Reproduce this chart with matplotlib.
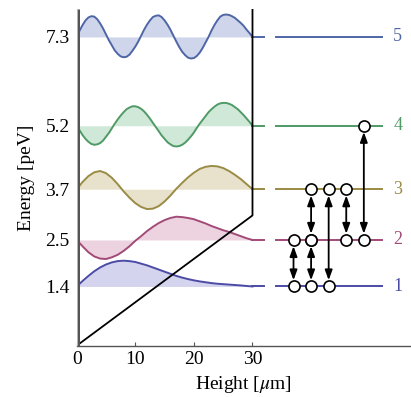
import numpy as np
import matplotlib
matplotlib.use('Agg')
from matplotlib import pyplot as plt

plt.rcParams['font.family'] = ['Liberation Serif', 'DejaVu Serif']
plt.rcParams['mathtext.fontset'] = 'stix'

z = list(range(31))
z_fine = [i * 0.5 for i in range(61)]

# wave functions, offset from their level (peV units)
psi1 = [0, 0.13, 0.25, 0.36, 0.45, 0.52, 0.57, 0.60, 0.61, 0.60, 0.58,
        0.54, 0.50, 0.45, 0.40, 0.35, 0.30, 0.25, 0.21, 0.175, 0.145,
        0.12, 0.10, 0.08, 0.065, 0.055, 0.045, 0.035, 0.025, 0.012, 0]
psi2 = [0, -0.15, -0.29, -0.39, -0.44, -0.45, -0.41, -0.35, -0.26, -0.15, -0.02,
        0.09, 0.21, 0.31, 0.40, 0.47, 0.52, 0.55, 0.54, 0.52, 0.49,
        0.44, 0.39, 0.33, 0.28, 0.23, 0.19, 0.14, 0.09, 0.04, 0]
psi3 = [0, 0.17, 0.31, 0.40, 0.43, 0.38, 0.27, 0.12, -0.05, -0.20, -0.33,
        -0.42, -0.47, -0.46, -0.40, -0.29, -0.15, 0.01, 0.15, 0.28, 0.39,
        0.48, 0.53, 0.55, 0.54, 0.50, 0.43, 0.34, 0.24, 0.12, 0]
# read every 0.5 um
psi4 = [0, -0.11, -0.22, -0.31, -0.38, -0.43, -0.45, -0.44, -0.41, -0.35,
        -0.26, -0.17, -0.06, 0.05, 0.15, 0.24, 0.32, 0.39, 0.43, 0.46,
        0.46, 0.44, 0.40, 0.34, 0.26, 0.17, 0.07, -0.03, -0.13, -0.23,
        -0.31, -0.39, -0.44, -0.48, -0.49, -0.48, -0.45, -0.40, -0.33, -0.25,
        -0.16, -0.05, 0.05, 0.14, 0.23, 0.32, 0.39, 0.45, 0.50, 0.53,
        0.54, 0.54, 0.52, 0.49, 0.44, 0.39, 0.32, 0.25, 0.17, 0.09, 0]
psi5 = [0, 0.15, 0.28, 0.39, 0.46, 0.49, 0.48, 0.42, 0.32, 0.20,
        0.06, -0.08, -0.20, -0.32, -0.40, -0.46, -0.48, -0.47, -0.42, -0.33,
        -0.23, -0.11, 0.03, 0.17, 0.29, 0.39, 0.47, 0.50, 0.51, 0.47,
        0.39, 0.29, 0.17, 0.03, -0.11, -0.24, -0.35, -0.43, -0.49, -0.51,
        -0.50, -0.45, -0.37, -0.26, -0.13, 0, 0.15, 0.28, 0.39, 0.48,
        0.52, 0.53, 0.52, 0.49, 0.45, 0.39, 0.33, 0.26, 0.17, 0.09, 0]

levels = [1.4, 2.5, 3.7, 5.2, 7.3]
names = ['1', '2', '3', '4', '5']
line_cols = ['#4b4ba6', '#a24a78', '#9a8b45', '#4f9a66', '#4f66a6']
fill_cols = ['#d4d4ef', '#ecd3df', '#e8e2cc', '#d0e8d8', '#cfd5ea']

# potential: mg z up to the top mirror at 30 um
pot_z = [0, 30, 30]
pot_E = [0, 3.08, 7.96]

# transitions between levels (x position, lower, upper)
trans_x = [37, 40, 40, 43, 46, 49]
trans_lo = [1, 1, 2, 1, 2, 2]
trans_hi = [2, 2, 3, 3, 3, 4]

fig = plt.figure(figsize=(4.11, 3.97), dpi=100)
ax = fig.add_axes([0.1866, 0.1292, 0.8134, 0.8481])

curves = [(z, psi1), (z, psi2), (z, psi3), (z_fine, psi4), (z_fine, psi5)]
for i, (zz, psi) in enumerate(curves):
    E = levels[i]
    y = np.array(psi) + E
    ax.fill_between(zz, E, y, color=fill_cols[i], lw=0, zorder=1)
    ax.plot(zz, y, color=line_cols[i], lw=1.4, zorder=2)
    ax.plot([30, 32], [E, E], color=line_cols[i], lw=1.4, zorder=2)
    ax.plot([34, 52.1], [E, E], color=line_cols[i], lw=1.4, zorder=2)
    ax.text(54.8, E, names[i], color=line_cols[i], fontsize=13,
            ha='center', va='center')

ax.plot(pot_z, pot_E, color='black', lw=1.3, zorder=3)
# the floor mirror
ax.plot([0, 0], [0, 7.96], color='#555555', lw=3.6, zorder=4, solid_capstyle='butt')
ax.plot([0, 0], [0, 7.96], color='#b8b8b8', lw=1.4, zorder=5, solid_capstyle='butt')

for x, lo, hi in zip(trans_x, trans_lo, trans_hi):
    ax.annotate('', xy=(x, levels[hi - 1]), xytext=(x, levels[lo - 1]),
                arrowprops=dict(arrowstyle='<|-|>,head_length=0.6,head_width=0.22',
                                color='black', lw=1.3, shrinkA=4.5, shrinkB=4.5),
                zorder=6)
    ax.plot([x, x], [levels[lo - 1], levels[hi - 1]], 'o', ms=8, mfc='white',
            mec='black', mew=1.2, zorder=7)

ax.set_xlim(0, 57.05)
ax.set_ylim(0, 7.96)
for s in ['left', 'top', 'right']:
    ax.spines[s].set_visible(False)
ax.spines['bottom'].set_color('#555555')
ax.spines['bottom'].set_linewidth(1.0)

ax.set_xticks([0, 10, 20, 30])
ax.set_xticklabels(['0', '10', '20', '30'])
ax.tick_params(axis='x', direction='in', length=3, color='#555555',
               labelsize=14, pad=4)
ax.set_yticks(levels)
ax.set_yticklabels(['1.4', '2.5', '3.7', '5.2', '7.3'])
ax.tick_params(axis='y', length=0, labelsize=14, pad=5)

ax.set_xlabel('Height [$\\mu$m]', fontsize=14)
ax.set_ylabel('Energy [peV]', fontsize=14)
ax.yaxis.set_label_coords(-0.125, 0.5)

fig.savefig('out.png', dpi=100)
